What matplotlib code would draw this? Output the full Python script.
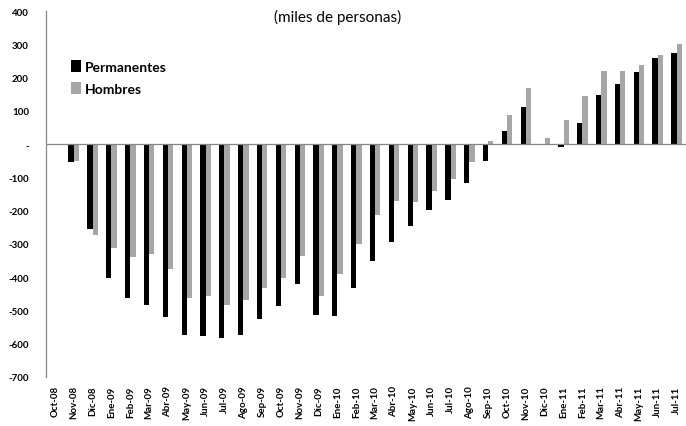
import matplotlib
matplotlib.use("Agg")
import matplotlib.pyplot as plt
import numpy as np

plt.rcParams['font.family'] = ['Lato', 'DejaVu Sans']

months = ["Oct-08", "Nov-08", "Dic-08", "Ene-09", "Feb-09", "Mar-09", "Abr-09", "May-09",
          "Jun-09", "Jul-09", "Ago-09", "Sep-09", "Oct-09", "Nov-09", "Dic-09", "Ene-10",
          "Feb-10", "Mar-10", "Abr-10", "May-10", "Jun-10", "Jul-10", "Ago-10", "Sep-10",
          "Oct-10", "Nov-10", "Dic-10", "Ene-11", "Feb-11", "Mar-11", "Abr-11", "May-11",
          "Jun-11", "Jul-11"]
permanentes = [0, -55, -255, -403, -464, -484, -521, -573, -576, -584, -573, -526, -488, -419,
               -514, -518, -433, -352, -294, -245, -197, -168, -118, -50, 38, 110, 0, -8,
               63, 149, 180, 216, 258, 274]
hombres = [0, -51, -273, -313, -338, -331, -374, -463, -456, -484, -468, -432, -403, -336,
           -456, -389, -301, -213, -170, -173, -140, -105, -55, 10, 87, 170, 17, 72,
           144, 219, 221, 237, 267, 300]
yticks = [400, 300, 200, 100, 0, -100, -200, -300, -400, -500, -600, -700]
ytick_labels = ["400", "300", "200", "100", "-", "-100", "-200", "-300", "-400", "-500", "-600", "-700"]

fig = plt.figure(figsize=(6.86, 4.27), dpi=100)
ax = fig.add_axes([45.5/686, 1 - 378/427, (686 - 45.5)/686, (378 - 12)/427])

x = np.arange(len(months))
w = 0.28
ax.bar(x - w/2, permanentes, width=w, color="#000000", label="Permanentes", zorder=2)
ax.bar(x + w/2, hombres, width=w, color="#a6a6a6", label="Hombres", zorder=2)

ax.set_xlim(-0.5, len(months) - 0.5)
ax.set_ylim(-700, 400)
ax.axhline(0, color="#868686", lw=0.9, zorder=3)

ax.set_yticks(yticks)
ax.set_yticklabels(ytick_labels, fontsize=7, fontweight="bold")
ax.set_xticks(x)
ax.set_xticklabels(months, rotation=90, fontsize=7, fontweight="bold")
ax.tick_params(axis="both", length=0)
ax.tick_params(axis="y", pad=12)
ax.tick_params(axis="x", pad=6)

for s in ["top", "right", "bottom"]:
    ax.spines[s].set_visible(False)
ax.spines["left"].set_color("#868686")
ax.spines["left"].set_linewidth(0.9)

leg = ax.legend(loc="upper left", bbox_to_anchor=(0.021, 0.90), frameon=False,
                prop={"size": 10, "weight": "bold"}, handlelength=0.7, handleheight=0.9,
                handletextpad=0.25, labelspacing=0.7)

fig.text(338/686, 1 - 17/427, "(miles de personas)", ha="center", va="center", fontsize=11)

fig.savefig("out.png", dpi=100)
